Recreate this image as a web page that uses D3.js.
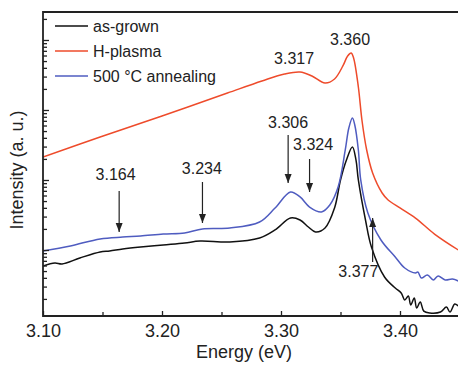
<!DOCTYPE html>
<html>
<head>
<meta charset="utf-8">
<script src="https://cdn.jsdelivr.net/npm/d3@7"></script>
<style>
  body { margin: 0; background: #fff; }
  svg { display: block; font-family: "Liberation Sans", Arial, sans-serif; }
</style>
</head>
<body>
<div id="chart"></div>
<script>
// energy (eV) / intensity (a.u.)
const asGrown = [
  [3.100, 59.1], [3.110, 65.2], [3.116, 63.1], [3.131, 76.9], [3.148, 93.6], [3.156, 96.8],
  [3.167, 103], [3.182, 110], [3.201, 118], [3.219, 126], [3.232, 134], [3.257, 130],
  [3.282, 148], [3.295, 193], [3.308, 286], [3.316, 268], [3.323, 213], [3.329, 181],
  [3.337, 206], [3.345, 398], [3.350, 1000], [3.355, 1931], [3.360, 2961], [3.363, 1931],
  [3.365, 1000], [3.371, 268], [3.376, 110], [3.387, 41.1], [3.396, 28.6], [3.401, 24.3],
  [3.404, 19.3], [3.407, 22.0], [3.409, 16.4], [3.412, 20.6], [3.414, 14.8], [3.417, 18.1],
  [3.420, 13.4], [3.425, 12.6], [3.434, 13.0], [3.439, 15.3], [3.442, 13.0], [3.446, 16.9],
  [3.449, 15.8]
];

const hPlasma = [
  [3.100, 2131], [3.148, 4115], [3.200, 8211], [3.255, 17490], [3.284, 25960], [3.303, 32680],
  [3.316, 34910], [3.326, 30600], [3.337, 24310], [3.345, 27730], [3.352, 42530], [3.356, 59070],
  [3.359, 65200], [3.361, 55330], [3.365, 21310], [3.368, 7197], [3.372, 2683], [3.377, 1259],
  [3.385, 652], [3.390, 518], [3.400, 398], [3.413, 286], [3.429, 169], [3.449, 100]
];

const annealed = [
  [3.100, 96.8], [3.123, 114], [3.148, 144], [3.167, 153], [3.182, 158], [3.201, 169],
  [3.219, 175], [3.234, 200], [3.257, 206], [3.282, 251], [3.295, 398], [3.308, 674],
  [3.316, 572], [3.324, 411], [3.334, 349], [3.341, 439], [3.348, 794], [3.354, 2683],
  [3.357, 5533], [3.360, 7687], [3.362, 6107], [3.365, 2683], [3.367, 1000], [3.373, 338],
  [3.384, 139], [3.396, 79.4], [3.404, 55.3], [3.413, 46.9], [3.415, 48.5], [3.418, 39.8],
  [3.423, 44.0], [3.428, 37.3], [3.432, 42.5], [3.438, 37.3], [3.444, 38.5], [3.449, 36.1]
];

const seriesNames = ["as-grown", "H-plasma", "500 °C annealing"];
const seriesColors = ["#111111", "#ee4b2b", "#4f5cc0"];

const xTicks = [3.10, 3.20, 3.30, 3.40];
const xMinorTicks = [3.15, 3.25, 3.35, 3.45];

// arrows: energy, tail intensity, tip intensity
const arrows = [
  [3.164, 696, 181], [3.234, 936, 243], [3.306, 4394, 906], [3.324, 1995, 674], [3.377, 67.4, 286]
];
// labels: text, energy, intensity at baseline
const peakLabels = [
  ["3.164", 3.161, 1000], ["3.234", 3.2335, 1218], ["3.306", 3.306, 5533], ["3.324", 3.327, 2683],
  ["3.377", 3.365, 41.1], ["3.317", 3.311, 45400], ["3.360", 3.358, 84840]
];

const W = 458, H = 365;
const m = { left: 43, top: 12, bottom: 49 };

const x = d3.scaleLinear().domain([3.10, 3.40]).range([m.left, 400]);
const y = d3.scaleLog().domain([11.4, 2.51e5]).range([H - m.bottom, m.top]);
const xRight = x(3.45);

const svg = d3.select("#chart").append("svg")
    .attr("width", W)
    .attr("height", H);

svg.append("defs").append("clipPath").attr("id", "plot-clip")
  .append("rect")
    .attr("x", m.left).attr("y", m.top)
    .attr("width", xRight - m.left).attr("height", y.range()[0] - m.top);

svg.select("defs").append("marker")
    .attr("id", "arrowhead")
    .attr("markerUnits", "userSpaceOnUse")
    .attr("viewBox", "0 -4 9 8")
    .attr("refX", 9).attr("refY", 0)
    .attr("markerWidth", 9).attr("markerHeight", 8)
    .attr("orient", "auto")
  .append("path")
    .attr("d", "M0,-3.5L9,0L0,3.5Z")
    .attr("fill", "#222");

// curves
const line = d3.line()
    .x(d => x(d[0]))
    .y(d => y(d[1]))
    .curve(d3.curveCatmullRom.alpha(0.5));

const curves = svg.append("g").attr("clip-path", "url(#plot-clip)");
[asGrown, hPlasma, annealed].forEach((s, i) => {
  curves.append("path")
      .datum(s)
      .attr("fill", "none")
      .attr("stroke", seriesColors[i])
      .attr("stroke-width", 1.5)
      .attr("stroke-linejoin", "round")
      .attr("d", line);
});

// x axis, ticks inward
const xAxis = svg.append("g")
    .attr("transform", "translate(0," + y.range()[0] + ")")
    .call(d3.axisBottom(x).tickValues(xTicks).tickFormat(d3.format(".2f"))
      .tickSizeInner(-5).tickSizeOuter(0).tickPadding(8));
svg.append("g")
    .attr("transform", "translate(0," + y.range()[0] + ")")
    .call(d3.axisBottom(x).tickValues(xMinorTicks).tickFormat("").tickSizeInner(-4).tickSizeOuter(0))
    .call(g => g.select(".domain").remove());
xAxis.select(".domain").remove();
xAxis.selectAll("text").attr("font-size", 18).attr("fill", "#222").style("font-family", "inherit");
svg.selectAll(".tick line").attr("stroke", "#222").attr("stroke-width", 1.3);

// y axis: log decades with minor ticks, no labels
const yMinor = [];
const yMajor = [];
for (let p = 1; p <= 5; p++) {
  for (let k = 1; k <= 9; k++) {
    const v = k * Math.pow(10, p);
    if (v < y.domain()[0] || v > y.domain()[1]) continue;
    (k === 1 ? yMajor : yMinor).push(v);
  }
}
svg.append("g")
    .attr("transform", "translate(" + m.left + ",0)")
    .call(d3.axisLeft(y).tickValues(yMinor).tickFormat("").tickSizeInner(-4).tickSizeOuter(0))
    .call(g => g.select(".domain").remove())
    .call(g => g.selectAll("line").attr("stroke", "#222").attr("stroke-width", 1.3));
svg.append("g")
    .attr("transform", "translate(" + m.left + ",0)")
    .call(d3.axisLeft(y).tickValues(yMajor).tickFormat("").tickSizeInner(-6).tickSizeOuter(0))
    .call(g => g.select(".domain").remove())
    .call(g => g.selectAll("line").attr("stroke", "#222").attr("stroke-width", 1.3));

// frame
svg.append("path")
    .attr("d", "M" + xRight + "," + m.top + "H" + m.left + "V" + y.range()[0] + "H" + xRight)
    .attr("fill", "none")
    .attr("stroke", "#222")
    .attr("stroke-width", 1.8);

// axis titles
svg.append("text")
    .attr("x", 244).attr("y", 358)
    .attr("text-anchor", "middle")
    .attr("font-size", 18)
    .attr("fill", "#222")
    .text("Energy (eV)");
svg.append("text")
    .attr("transform", "translate(23,170) rotate(-90)")
    .attr("text-anchor", "middle")
    .attr("font-size", 18)
    .attr("fill", "#222")
    .text("Intensity (a. u.)");

// legend
const legend = svg.append("g");
seriesNames.forEach((name, i) => {
  const ly = 26 + i * 25;
  legend.append("line")
      .attr("x1", 55).attr("x2", 88)
      .attr("y1", ly).attr("y2", ly)
      .attr("stroke", seriesColors[i])
      .attr("stroke-width", 1.6);
  legend.append("text")
      .attr("x", 93).attr("y", ly)
      .attr("dy", "0.35em")
      .attr("font-size", 16)
      .attr("fill", "#222")
      .text(name);
});

// arrows + peak labels
svg.append("g").selectAll("line")
  .data(arrows)
  .join("line")
    .attr("x1", d => x(d[0])).attr("x2", d => x(d[0]))
    .attr("y1", d => y(d[1])).attr("y2", d => y(d[2]))
    .attr("stroke", "#222")
    .attr("stroke-width", 1.2)
    .attr("marker-end", "url(#arrowhead)");

svg.append("g").selectAll("text")
  .data(peakLabels)
  .join("text")
    .attr("x", d => x(d[1]))
    .attr("y", d => y(d[2]))
    .attr("text-anchor", "middle")
    .attr("font-size", 16)
    .attr("fill", "#222")
    .text(d => d[0]);
</script>
</body>
</html>
